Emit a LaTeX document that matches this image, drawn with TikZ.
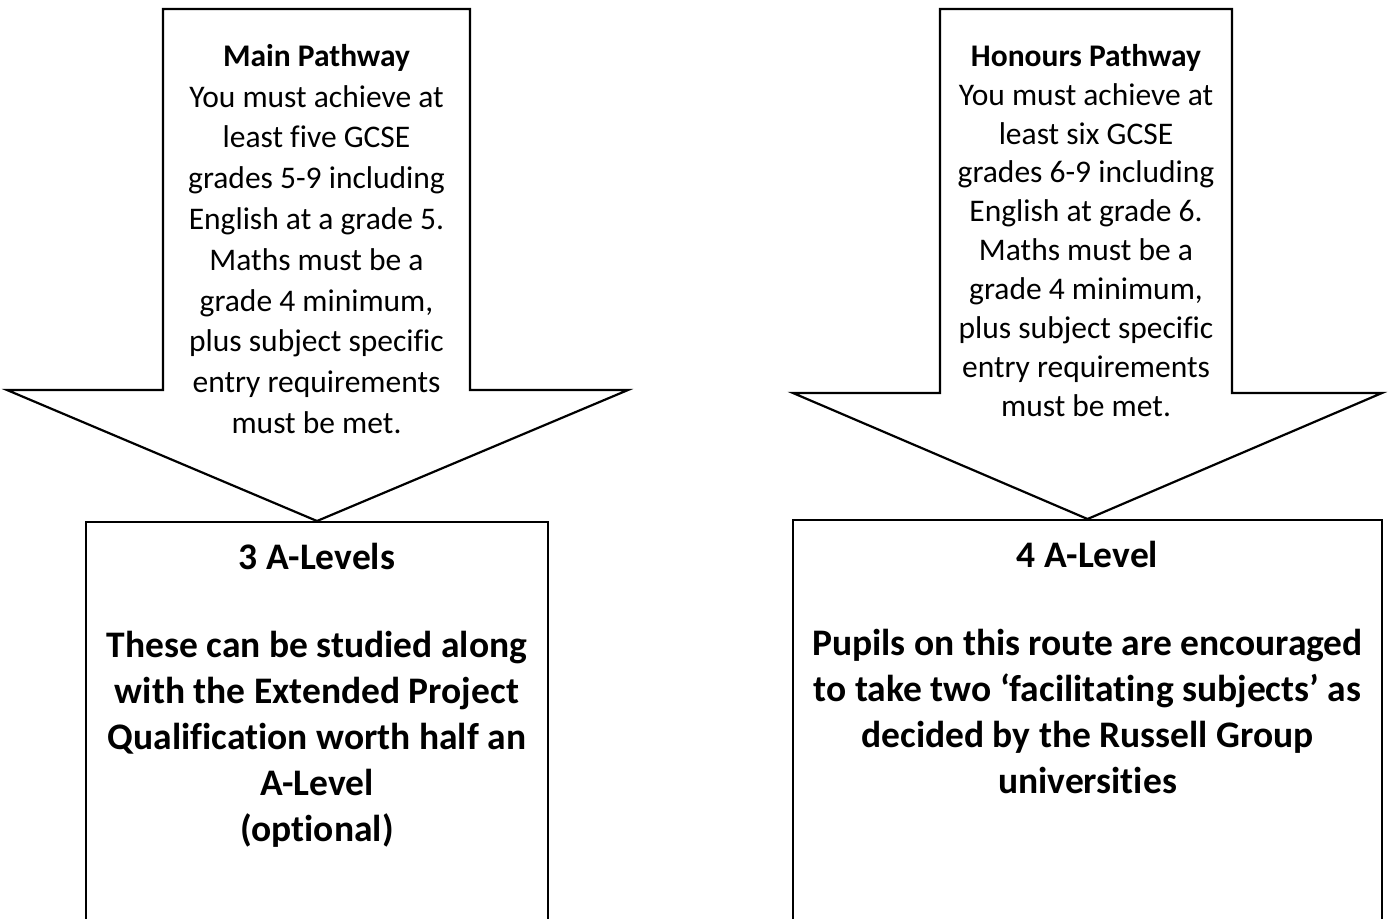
\documentclass[tikz,border=0pt]{standalone}
\usepackage{fontspec}
\setmainfont{Carlito}[Ligatures=NoCommon]
\usetikzlibrary{positioning,calc}

\begin{document}
\begin{tikzpicture}[
    x=1pt,y=-1pt,
    line width=2.2pt
  ]
\def\nw{1pt}

\tikzstyle{outline}=[draw=black,line join=miter]
\tikzstyle{arrowtxt}=[align=center,inner sep=0pt,font=\fontsize{31.5}{40.8}\selectfont]
\tikzstyle{boxtxt}=[align=center,inner sep=0pt,font=\bfseries\fontsize{37.5}{46}\selectfont]

\useasboundingbox (0,0) rectangle (1388,918);
\clip (0,0) rectangle (1388,918);

% result boxes, bottom runs off the page
\node[outline,anchor=north,minimum width=462*\nw,minimum height=500*\nw] (three) at (317,521) {};
\node[outline,anchor=north,minimum width=589*\nw,minimum height=500*\nw] (four) at (1087.5,519) {};

% pathway arrows
\coordinate (mainTop) at (316.5,9);
\coordinate (honTop) at (1086,9);
\draw[outline] (163,9) -- (470,9) -- (470,390) -- (628,390) -- (three.north)
  -- (7,390) -- (163,390) -- cycle;
\draw[outline] (940,9) -- (1232,9) -- (1232,393) -- (1382,393) -- (four.north)
  -- (793,393) -- (940,393) -- cycle;

\node[arrowtxt,below=34*\nw of mainTop] (main) {\textbf{Main Pathway}\\
  You must achieve at\\ least five GCSE\\ grades 5-9 including\\
  English at a grade 5.\\ Maths must be a\\ grade 4 minimum,\\
  plus subject specific\\ entry requirements\\ must be met.};
\node[arrowtxt,below=34*\nw of honTop,font=\fontsize{31.5}{38.9}\selectfont] (honours) {\textbf{Honours Pathway}\\
  You must achieve at\\ least six GCSE\\ grades 6-9 including\\
  English at grade 6.\\ Maths must be a\\ grade 4 minimum,\\
  plus subject specific\\ entry requirements\\ must be met.};

\node[boxtxt,below=21*\nw of three.north] (threetxt) {3 A-Levels\\[42pt]
  These can be studied along\\ with the Extended Project\\
  Qualification worth half an\\ A-Level\\ (optional)};
\node[boxtxt,below=21*\nw of four.north] (fourtxt) {4 A-Level\\[42pt]
  Pupils on this route are encouraged\\ to take two ‘facilitating subjects’ as\\
  decided by the Russell Group\\ universities};

\end{tikzpicture}
\end{document}
